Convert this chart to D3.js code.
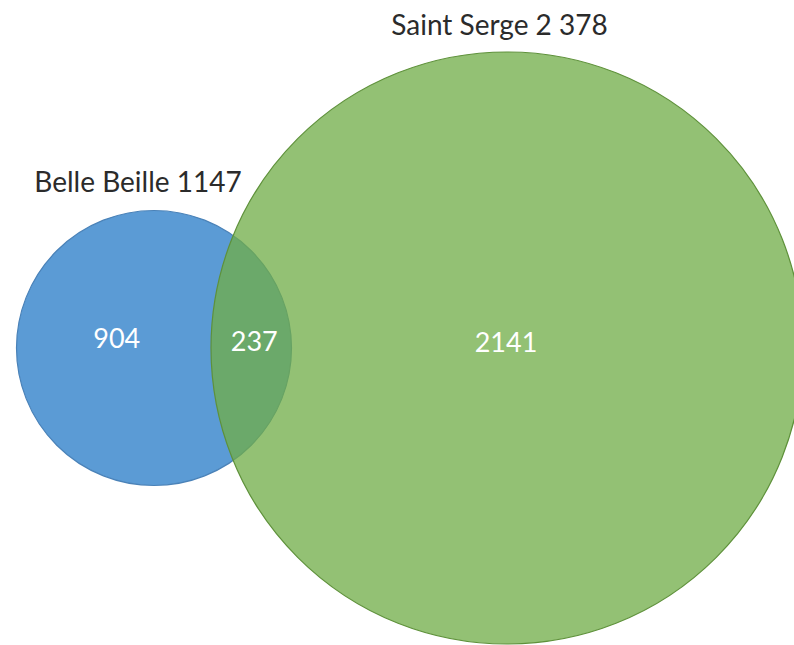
<!DOCTYPE html>
<html>
<head>
<meta charset="utf-8">
<script src="https://cdn.jsdelivr.net/npm/d3@7"></script>
<style>
  body { margin: 0; background: #fff; }
  svg { display: block; }
</style>
</head>
<body>
<svg id="chart"></svg>
<script>
// set names, totals and region counts
const setNames = ['Belle Beille', 'Saint Serge'];
const setTotals = [1147, 2378];
const setTotalLabels = ['1147', '2 378'];
const onlyCounts = [904, 2141];
const overlapCount = 237;

const width = 794;
const height = 645;

const svg = d3.select('#chart')
  .attr('width', width)
  .attr('height', height);

// radius scale (totals -> px)
const rScale = d3.scaleLinear()
  .domain(d3.extent(setTotals))
  .range([137.5, 296]);

const r = setTotals.map((d) => rScale(d));

// overlap width in px, horizontal placement
const overlapPx = 80.5;
const cy = 348;
const leftEdge = 16.5;
const cx0 = leftEdge + r[0];
const cx1 = cx0 + r[0] + r[1] - overlapPx;
const cx = [cx0, cx1];

const fills = ['#5B9BD5', '#70AD47'];
const strokes = ['#4A82B8', '#5E913A'];
const opac = [1, 0.755];

svg.selectAll('circle.set')
  .data(setNames)
  .enter()
  .append('circle')
  .attr('class', 'set')
  .attr('cx', (d, i) => cx[i])
  .attr('cy', cy)
  .attr('r', (d, i) => r[i])
  .attr('fill', (d, i) => fills[i])
  .attr('fill-opacity', (d, i) => opac[i])
  .attr('stroke', (d, i) => strokes[i])
  .attr('stroke-width', 1.2);

const font = "Lato, 'Open Sans', sans-serif";
const titleSize = 28;
const countSize = 27;

// set titles above each circle
const titleX = [138, 499.5];
const titleY = [cy - r[0] - 19, cy - r[1] - 17];
svg.selectAll('text.title')
  .data(setNames)
  .enter()
  .append('text')
  .attr('class', 'title')
  .attr('x', (d, i) => titleX[i])
  .attr('y', (d, i) => titleY[i])
  .attr('text-anchor', 'middle')
  .attr('font-family', font)
  .attr('font-size', titleSize)
  .attr('fill', '#2b2b2b')
  .text((d, i) => `${d} ${setTotalLabels[i]}`);

// region counts, centred in each region along the centre line
const leftA = cx[0] - r[0];
const rightA = cx[0] + r[0];
const leftB = cx[1] - r[1];
const regions = [
  { v: onlyCounts[0], x: (leftA + leftB) / 2 + 3, dy: 0 },
  { v: overlapCount, x: (leftB + rightA) / 2 + 3, dy: 3 },
  { v: onlyCounts[1], x: cx[1] - 1, dy: 4 }
];

svg.selectAll('text.count')
  .data(regions)
  .enter()
  .append('text')
  .attr('class', 'count')
  .attr('x', (d) => d.x)
  .attr('y', (d) => cy + d.dy)
  .attr('text-anchor', 'middle')
  .attr('font-family', font)
  .attr('font-size', countSize)
  .attr('fill', '#fff')
  .text((d) => d.v);
</script>
</body>
</html>
